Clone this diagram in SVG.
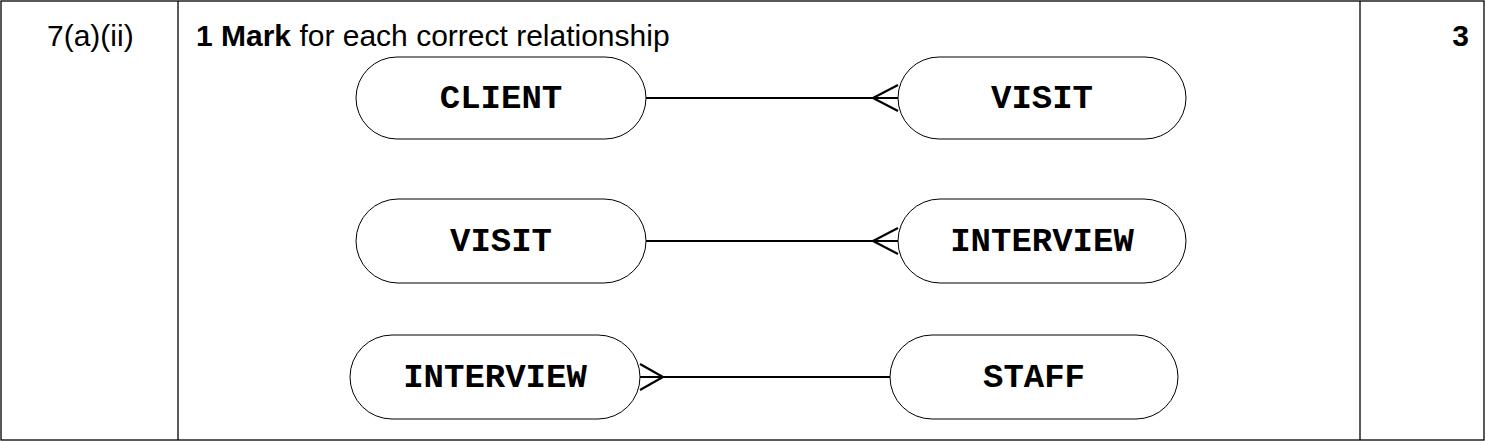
<svg xmlns="http://www.w3.org/2000/svg" width="1485" height="441" viewBox="0 0 1485 441">
<style>
.grid{stroke:#000;stroke-width:1.3;fill:none}
.pill{fill:#fff;stroke:#000;stroke-width:1}
.lbl{font-family:"Liberation Mono",monospace;font-weight:bold;font-size:34px;text-anchor:middle;dominant-baseline:central}
.txt{font-family:"Liberation Sans",Arial,sans-serif;font-size:30px}
.con{stroke:#000;stroke-width:2.2;fill:none}
</style>
<rect width="1485" height="441" fill="#fff"/>
<g id="table" class="grid">
<rect x="1" y="1" width="1483" height="439"/>
<line x1="178" y1="1" x2="178" y2="440"/>
<line x1="1360" y1="1" x2="1360" y2="440"/>
</g>
<text class="txt" x="47" y="46">7(a)(ii)</text>
<text class="txt" x="196" y="46"><tspan font-weight="bold">1 Mark</tspan> for each correct relationship</text>
<text class="txt" x="1469" y="46" text-anchor="end" font-weight="bold">3</text>
<g id="connectors">
<path class="con" d="M646 98H898M898 85L873 98L898 111"/>
<path class="con" d="M646 241H898M898 228L873 241L898 254"/>
<path class="con" d="M640 377H890M640 364L663 377L640 390"/>
</g>
<g id="client"><rect class="pill" x="356" y="57" width="290" height="82" rx="41"/><text class="lbl" x="501" y="99">CLIENT</text></g>
<g id="visit1"><rect class="pill" x="898" y="57" width="288" height="82" rx="41"/><text class="lbl" x="1042" y="99">VISIT</text></g>
<g id="visit2"><rect class="pill" x="356" y="199" width="290" height="84" rx="42"/><text class="lbl" x="501" y="242">VISIT</text></g>
<g id="interview1"><rect class="pill" x="898" y="199" width="288" height="84" rx="42"/><text class="lbl" x="1042" y="242">INTERVIEW</text></g>
<g id="interview2"><rect class="pill" x="350" y="335" width="290" height="84" rx="42"/><text class="lbl" x="495" y="378">INTERVIEW</text></g>
<g id="staff"><rect class="pill" x="890" y="335" width="288" height="84" rx="42"/><text class="lbl" x="1034" y="378">STAFF</text></g>
</svg>
